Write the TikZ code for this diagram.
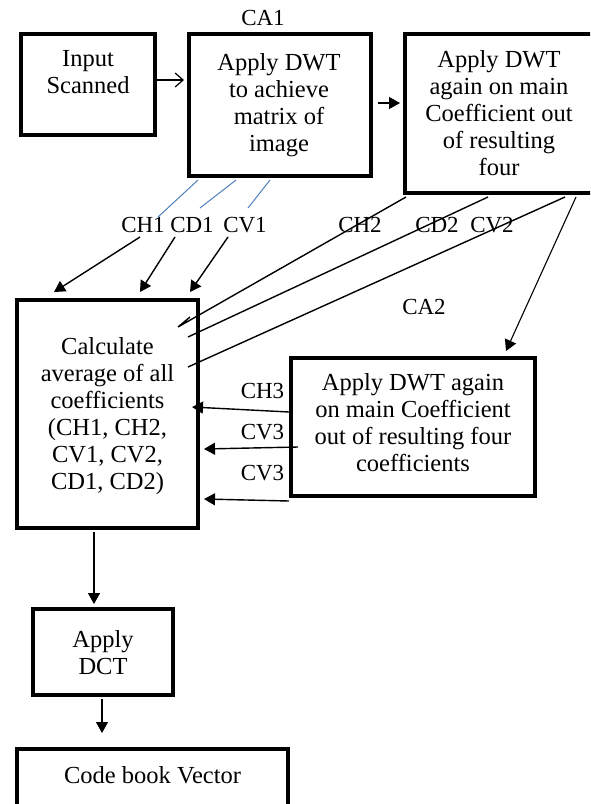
\documentclass[tikz,border=0pt]{standalone}
\usepackage{fontspec}
\setmainfont{Liberation Serif}
\usetikzlibrary{arrows.meta,calc}
\definecolor{lineblue}{HTML}{4F81BD}
\begin{document}
\begin{tikzpicture}[x=1pt,y=-1pt,
  flowbox/.style={draw, line width=4pt, inner sep=0pt},
  txt/.style={align=center, font=\fontsize{24.5}{27}\selectfont, inner sep=0pt},
  lbl/.style={font=\fontsize{23}{27}\selectfont, inner sep=0pt},
  arr/.style={line width=1.4pt, -{Triangle[length=11pt,width=12pt]}},
  plainln/.style={line width=1.4pt},
  blu/.style={draw=lineblue, line width=1pt},
  openarr/.style={line width=1.2pt, -{Straight Barb[length=8pt,width=14pt]}}]
\useasboundingbox (0,0) rectangle (590,804);
\fill[white] (0,0) rectangle (590,804);
\clip (0,0) rectangle (590,804);

% boxes
\node[flowbox, minimum width=134pt, minimum height=101pt] (b1) at (88,84.5) {};
\node[flowbox, minimum width=182pt, minimum height=142pt] (b2) at (280,105) {};
\node[flowbox, minimum width=210pt, minimum height=159pt] (b3) at (510,113.5) {};
\node[flowbox, minimum width=181pt, minimum height=228pt] (b4) at (107.5,414) {};
\node[flowbox, minimum width=244pt, minimum height=138pt] (b5) at (413,427) {};
\node[flowbox, minimum width=140pt, minimum height=86pt] (b6) at (103,652) {};
\node[flowbox, minimum width=271pt, minimum height=70pt] (b7) at (152.5,784) {};

% box texts
\node[txt] (t1) at (88,72.5) {Input\\Scanned};
\node[txt] (t2) at (279,105) {Apply DWT\\to achieve\\matrix of\\image};
\node[txt] (t3) at (499,113.5) {Apply DWT\\again on main\\Coefficient out\\of resulting\\four};
\node[txt] (t4) at (107.5,416.5) {Calculate\\average of all\\coefficients\\(CH1, CH2,\\CV1, CV2,\\CD1, CD2)};
\node[txt] (t5) at (413,422.5) {Apply DWT again\\on main Coefficient\\out of resulting four\\coefficients};
\node[txt] (t6) at (103,652.5) {Apply\\DCT};
\node[txt] (t7) at (152.5,775) {Code book Vector};

% labels
\node[lbl] (ca1) at (263,17.5) {CA1};
\node[lbl] (ch1) at (143,225) {CH1};
\node[lbl] (cd1) at (192,225) {CD1};
\node[lbl] (cv1) at (245,225) {CV1};
\node[lbl] (ch2) at (360,225) {CH2};
\node[lbl] (cd2) at (437,225) {CD2};
\node[lbl] (cv2) at (492,225) {CV2};
\node[lbl] (ca2) at (424,306.5) {CA2};
\node[lbl] (ch3) at (262.5,390.5) {CH3};
\node[lbl] (cv3a) at (262.5,432) {CV3};
\node[lbl] (cv3b) at (262.5,473) {CV3};

% free ends
\coordinate (q1) at (158,217);
\coordinate (q2) at (200,208);
\coordinate (q3) at (248,208);
\coordinate (s1) at (140,237);
\coordinate (s2) at (175,237);
\coordinate (s3) at (228,237);
\coordinate (h1) at (178,327);
\coordinate (h2) at (190,317);
\coordinate (e2) at (188,337);
\coordinate (e3) at (188,367);

% connectors
\draw[openarr, shorten >=3pt] ([yshift=4.5pt]b1.east) -- ([yshift=4.5pt]b1.east -| b2.west);
\draw[arr, shorten <=5pt, shorten >=3pt] ([yshift=2pt]b2.east) -- ([yshift=2pt]b2.east -| b3.west);

\draw[blu] ([xshift=11pt,yshift=-2pt]b2.south west) -- (q1);
\draw[blu] ([xshift=49pt,yshift=-2pt]b2.south west) -- (q2);
\draw[blu] ([xshift=83pt,yshift=-2pt]b2.south west) -- (q3);

\draw[arr] (s1) -- ([xshift=39pt,yshift=6pt]b4.north west);
\draw[arr] (s2) -- ([xshift=125pt,yshift=6pt]b4.north west);
\draw[arr] (s3) -- ([xshift=175pt,yshift=6pt]b4.north west);

\draw[plainln] ([xshift=3pt,yshift=-2pt]b3.south west) -- (h1) -- (h2);
\draw[plainln] ([xshift=85pt,yshift=-2pt]b3.south west) -- (e2);
\draw[plainln] ([xshift=162pt,yshift=-2pt]b3.south west) -- (e3);
\draw[arr, line width=1.1pt] ([xshift=173pt,yshift=-2pt]b3.south west) -- ([xshift=217pt,yshift=5pt]b5.north west);

\draw[arr] ([yshift=15pt]b5.west) -- ([xshift=-8pt,yshift=7pt]b4.east);
\draw[arr] ([xshift=9pt,yshift=-20pt]b5.west) -- ([xshift=4pt,yshift=-35pt]b4.east);
\draw[arr] ([yshift=-3pt]b5.south west) -- ([xshift=4pt,yshift=-85pt]b4.east);

\draw[arr, shorten >=3pt] ([xshift=-13.5pt,yshift=-2pt]b4.south) -- ([xshift=-13.5pt]b4.south |- b6.north);
\draw[arr, shorten >=14pt] ([xshift=-1pt,yshift=-2pt]b6.south) -- ([xshift=-1pt]b6.south |- b7.north);
\end{tikzpicture}
\end{document}
